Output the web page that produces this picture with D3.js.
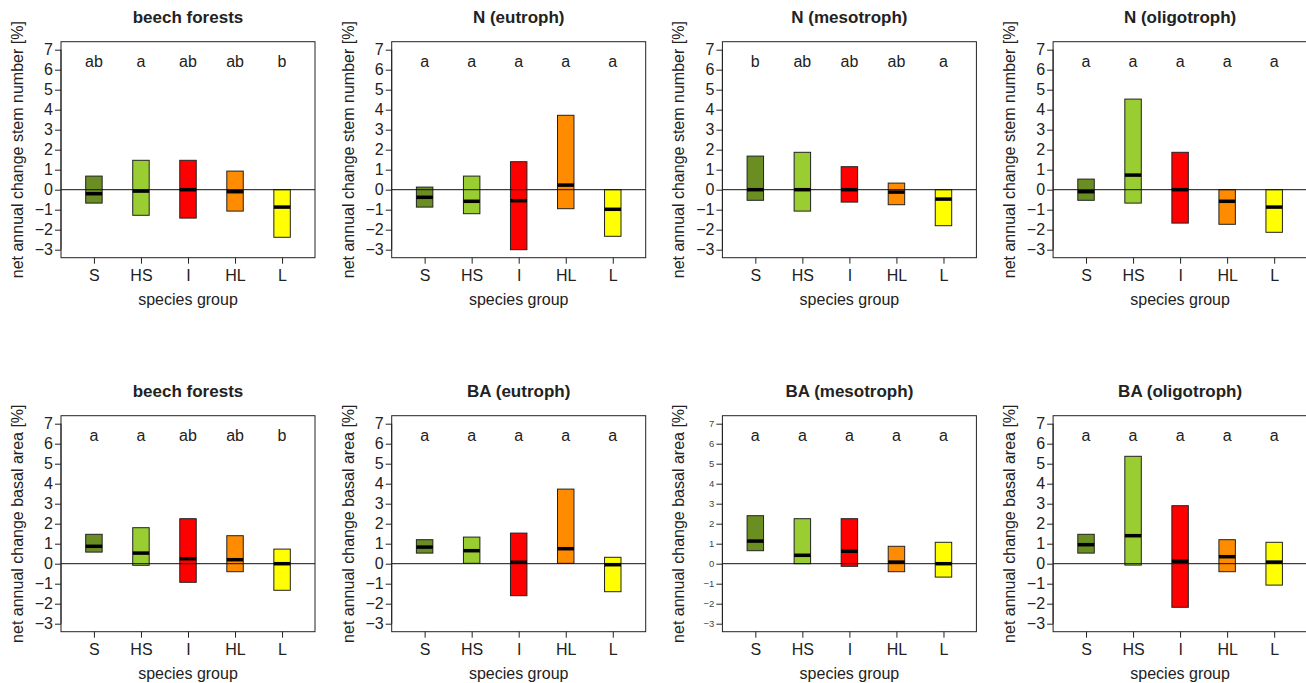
<!DOCTYPE html>
<html>
<head>
<meta charset="utf-8">
<script src="https://cdn.jsdelivr.net/npm/d3@7"></script>
<style>
  html, body { margin: 0; padding: 0; background: #fff; }
  svg { display: block; font-family: "Liberation Sans", Arial, sans-serif; }
</style>
</head>
<body>
<svg id="chart" width="1306" height="683"></svg>
<script>
// ---------- data ----------
const categories = ["S", "HS", "I", "HL", "L"];
const yTicks = [-3, -2, -1, 0, 1, 2, 3, 4, 5, 6, 7];
const panelTitles = ["beech forests", "N (eutroph)", "N (mesotroph)", "N (oligotroph)",
                     "beech forests", "BA (eutroph)", "BA (mesotroph)", "BA (oligotroph)"];
const yTitles = ["net annual change stem number [%]", "net annual change basal area [%]"];
const xTitle = "species group";

// stem number (row 1)
const beechStemLow  = [-0.67, -1.28, -1.42, -1.07, -2.38];
const beechStemMed  = [-0.20, -0.07,  0.00, -0.10, -0.87];
const beechStemHigh = [ 0.68,  1.47,  1.47,  0.93,  0.00];
const beechStemLetters = ["ab", "a", "ab", "ab", "b"];

const eutrStemLow  = [-0.87, -1.20, -3.00, -0.95, -2.33];
const eutrStemMed  = [-0.38, -0.58, -0.55,  0.23, -0.98];
const eutrStemHigh = [ 0.13,  0.68,  1.40,  3.72,  0.00];
const eutrStemLetters = ["a", "a", "a", "a", "a"];

const mesoStemLow  = [-0.53, -1.07, -0.62, -0.75, -1.80];
const mesoStemMed  = [ 0.00,  0.00,  0.00, -0.12, -0.47];
const mesoStemHigh = [ 1.68,  1.87,  1.15,  0.33,  0.00];
const mesoStemLetters = ["b", "ab", "ab", "ab", "a"];

const oligStemLow  = [-0.53, -0.67, -1.67, -1.73, -2.13];
const oligStemMed  = [-0.10,  0.73,  0.00, -0.58, -0.87];
const oligStemHigh = [ 0.53,  4.53,  1.87,  0.00,  0.00];
const oligStemLetters = ["a", "a", "a", "a", "a"];

// basal area (row 2)
const beechBALow  = [0.58, -0.08, -0.93, -0.40, -1.33];
const beechBAMed  = [0.87,  0.53,  0.25,  0.20,  0.00];
const beechBAHigh = [1.47,  1.80,  2.25,  1.40,  0.73];
const beechBALetters = ["a", "a", "ab", "ab", "b"];

const eutrBALow  = [0.53, 0.02, -1.60, 0.02, -1.40];
const eutrBAMed  = [0.83, 0.65,  0.07, 0.75, -0.05];
const eutrBAHigh = [1.20, 1.33,  1.53, 3.73,  0.32];
const eutrBALetters = ["a", "a", "a", "a", "a"];

const mesoBALow  = [0.65, 0.00, -0.13, -0.40, -0.67];
const mesoBAMed  = [1.13, 0.42,  0.62,  0.08,  0.00];
const mesoBAHigh = [2.40, 2.25,  2.25,  0.87,  1.07];
const mesoBALetters = ["a", "a", "a", "a", "a"];

const oligBALow  = [0.53, -0.07, -2.18, -0.40, -1.07];
const oligBAMed  = [0.95,  1.40,  0.12,  0.35,  0.08];
const oligBAHigh = [1.47,  5.37,  2.90,  1.20,  1.07];
const oligBALetters = ["a", "a", "a", "a", "a"];

// ---------- styles ----------
const groupColors = ["#6b8e23", "#9acd32", "#ff0000", "#ff8c00", "#ffff00"];
const textColor = "#222";

const panels = [
  {low: beechStemLow, med: beechStemMed, high: beechStemHigh, letters: beechStemLetters},
  {low: eutrStemLow,  med: eutrStemMed,  high: eutrStemHigh,  letters: eutrStemLetters},
  {low: mesoStemLow,  med: mesoStemMed,  high: mesoStemHigh,  letters: mesoStemLetters},
  {low: oligStemLow,  med: oligStemMed,  high: oligStemHigh,  letters: oligStemLetters},
  {low: beechBALow,   med: beechBAMed,   high: beechBAHigh,   letters: beechBALetters},
  {low: eutrBALow,    med: eutrBAMed,    high: eutrBAHigh,    letters: eutrBALetters},
  {low: mesoBALow,    med: mesoBAMed,    high: mesoBAHigh,    letters: mesoBALetters, smallTicks: true},
  {low: oligBALow,    med: oligBAMed,    high: oligBAHigh,    letters: oligBALetters}
];

// ---------- layout ----------
const svg = d3.select("#chart");
const boxW = 254, boxH = 216;
const colLeft = c => 61 + c * 330.7;
const rowTop = r => 41.7 + r * 374;
const barHalf = 0.175;
const fs = 16;
const titleFs = 17;

panels.forEach((p, i) => {
  const col = i % 4, row = Math.floor(i / 4);
  const left = colLeft(col), top = rowTop(row);
  const g = svg.append("g").attr("transform", `translate(${left},${top})`);

  const x = d3.scaleLinear().domain([0.3, 5.7]).range([0, boxW]);
  const y = d3.scaleLinear().domain([-3.4, 7.4]).range([boxH, 0]);

  // bars (interquartile boxes)
  categories.forEach((c, k) => {
    const xc = k + 1;
    g.append("rect")
      .attr("x", x(xc - barHalf))
      .attr("width", x(xc + barHalf) - x(xc - barHalf))
      .attr("y", y(p.high[k]))
      .attr("height", Math.max(0.5, y(p.low[k]) - y(p.high[k])))
      .attr("fill", groupColors[k])
      .attr("stroke", "#222")
      .attr("stroke-width", 1);
  });

  // zero line
  g.append("line")
    .attr("x1", 0).attr("x2", boxW)
    .attr("y1", y(0)).attr("y2", y(0))
    .attr("stroke", "#111").attr("stroke-width", 1);

  // medians
  categories.forEach((c, k) => {
    const xc = k + 1;
    g.append("line")
      .attr("x1", x(xc - barHalf)).attr("x2", x(xc + barHalf))
      .attr("y1", y(p.med[k])).attr("y2", y(p.med[k]))
      .attr("stroke", "#000").attr("stroke-width", 3.5);
  });

  // letters
  categories.forEach((c, k) => {
    g.append("text")
      .attr("x", x(k + 1))
      .attr("y", y(6.12))
      .attr("text-anchor", "middle")
      .attr("font-size", fs)
      .attr("fill", textColor)
      .text(p.letters[k]);
  });

  // frame
  g.append("rect")
    .attr("x", 0).attr("y", 0).attr("width", boxW).attr("height", boxH)
    .attr("fill", "none").attr("stroke", "#222").attr("stroke-width", 1);

  // y axis
  const yAxis = d3.axisLeft(y).tickValues(yTicks).tickSize(6).tickPadding(2).tickFormat(d3.format("d"));
  const ya = g.append("g").call(yAxis);
  ya.selectAll(".domain").attr("d", `M0,${y(7)}V${y(-3)}`).attr("stroke", "#222");
  ya.selectAll(".tick line").attr("stroke", "#222");
  ya.selectAll(".tick text")
    .attr("font-size", p.smallTicks ? 9.5 : fs)
    .attr("font-family", "Liberation Sans, Arial, sans-serif")
    .attr("fill", p.smallTicks ? "#444" : textColor);

  // x axis
  const xAxis = d3.axisBottom(x).tickValues([1, 2, 3, 4, 5]).tickSize(6).tickPadding(6)
    .tickFormat((d) => categories[d - 1]);
  const xa = g.append("g").attr("transform", `translate(0,${boxH})`).call(xAxis);
  xa.select(".domain").remove();
  xa.selectAll(".tick line").attr("stroke", "#222");
  xa.selectAll(".tick text")
    .attr("font-size", fs)
    .attr("font-family", "Liberation Sans, Arial, sans-serif")
    .attr("fill", textColor);

  // title
  g.append("text")
    .attr("x", boxW / 2).attr("y", -19)
    .attr("text-anchor", "middle")
    .attr("font-size", titleFs)
    .attr("font-weight", "bold")
    .attr("fill", textColor)
    .text(panelTitles[i]);

  // x title
  g.append("text")
    .attr("x", boxW / 2).attr("y", boxH + 47)
    .attr("text-anchor", "middle")
    .attr("font-size", fs)
    .attr("fill", textColor)
    .text(xTitle);

  // y title
  g.append("text")
    .attr("transform", `translate(-38,${boxH / 2}) rotate(-90)`)
    .attr("text-anchor", "middle")
    .attr("font-size", fs)
    .attr("fill", textColor)
    .text(yTitles[row]);
});
</script>
</body>
</html>
